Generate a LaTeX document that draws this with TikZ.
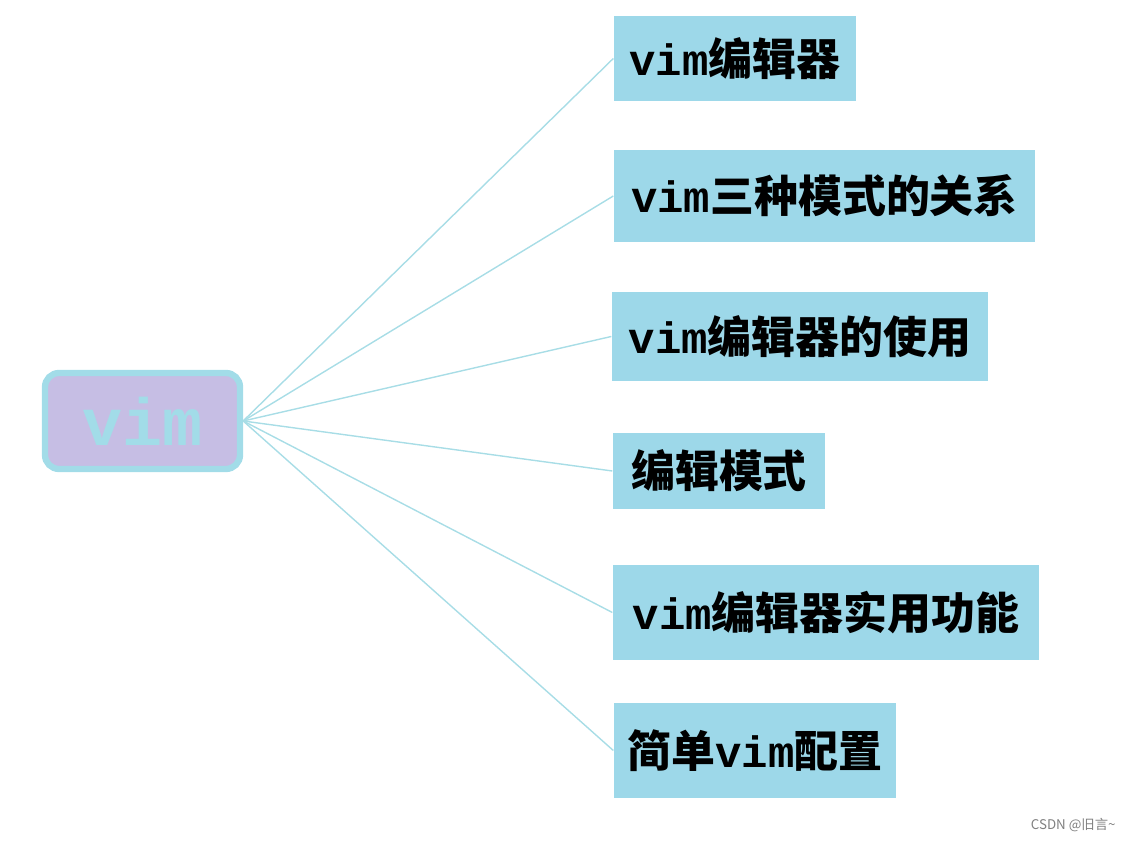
\documentclass[tikz,border=0pt]{standalone}
\usepackage{fontspec}
\setmonofont{Liberation Mono}
\newfontfamily\cjk{Noto Sans CJK SC}
\usepackage{xcolor}
\usetikzlibrary{positioning}

\definecolor{boxblue}{HTML}{9DD8E9}
\definecolor{rootfill}{HTML}{C6BEE4}
\definecolor{rootline}{HTML}{A2DCE8}
\definecolor{linkcol}{HTML}{A8DDE6}

\newcommand{\vm}{{\ttfamily\bfseries vim}}

\begin{document}
\begin{tikzpicture}[
    topic/.style={rectangle, fill=boxblue, text centered, inner sep=0pt, font=\fontsize{12.5}{15}\selectfont\cjk\bfseries},
    root/.style={rectangle, rounded corners=4pt, fill=rootfill, draw=rootline, line width=1.8pt, minimum width=1.95cm, minimum height=0.96cm, text=rootline, font=\fontsize{19}{22}\selectfont\ttfamily\bfseries},
    link/.style={draw=linkcol, line width=0.4pt}
]
\useasboundingbox (0,0) rectangle (11.41,8.41);

% Root
\node[root] (vim) at (1.425,4.20) {vim};

% Topics
\node[topic, minimum width=2.42cm, minimum height=0.85cm] (editor) at (7.35,7.825) {\vm 编辑器};
\node[topic, minimum width=4.21cm, minimum height=0.92cm] (modes) at (8.245,6.45) {\vm 三种模式的关系};
\node[topic, minimum width=3.76cm, minimum height=0.89cm] (usage) at (8.00,5.045) {\vm 编辑器的使用};
\node[topic, minimum width=2.12cm, minimum height=0.76cm] (editmode) at (7.19,3.70) {编辑模式};
\node[topic, minimum width=4.26cm, minimum height=0.95cm] (features) at (8.26,2.285) {\vm 编辑器实用功能};
\node[topic, minimum width=2.82cm, minimum height=0.95cm] (config) at (7.55,0.905) {简单\vm 配置};

% Links
\foreach \t in {editor, modes, usage, editmode, features, config}
    \draw[link] (vim.east) -- (\t.west);

% Watermark
\node[anchor=east, text=gray, font=\fontsize{3.8}{4.5}\selectfont\cjk] (mark) at (11.28,0.16) {CSDN @旧言\textasciitilde};

\end{tikzpicture}
\end{document}
